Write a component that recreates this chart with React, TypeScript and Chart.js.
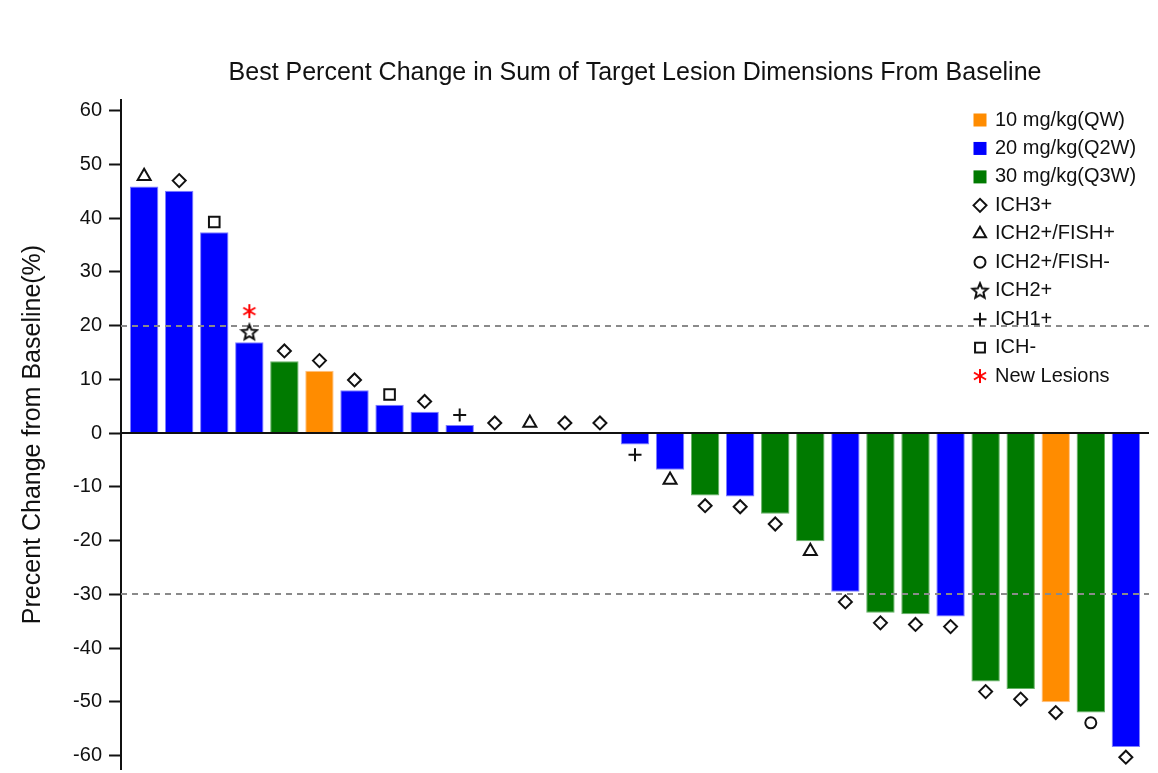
import React, { useEffect, useRef } from 'react';
import { Chart, registerables } from 'chart.js';
import { drawPoint } from 'chart.js/helpers';

Chart.register(...registerables);

// ---------------- data ----------------
const patientIds = [1, 2, 3, 4, 5, 6, 7, 8, 9, 10, 11, 12, 13, 14, 15, 16, 17, 18, 19, 20, 21, 22, 23, 24, 25, 26, 27, 28, 29];
const bestChange = [45.9, 45.1, 37.4, 16.9, 13.4, 11.6, 8.0, 5.3, 4.0, 1.5, 0, 0, 0, 0, -2.1, -6.8, -11.6, -11.8, -15.0, -20.1, -29.5, -33.4, -33.7, -34.1, -46.2, -47.6, -50.1, -52.0, -58.4];
const doseGroup = ['Q2W', 'Q2W', 'Q2W', 'Q2W', 'Q3W', 'QW', 'Q2W', 'Q2W', 'Q2W', 'Q2W', '', '', '', '', 'Q2W', 'Q2W', 'Q3W', 'Q2W', 'Q3W', 'Q3W', 'Q2W', 'Q3W', 'Q3W', 'Q2W', 'Q3W', 'Q3W', 'QW', 'Q3W', 'Q2W'];
const ihcStatus = ['ICH2+/FISH+', 'ICH3+', 'ICH-', 'ICH2+', 'ICH3+', 'ICH3+', 'ICH3+', 'ICH-', 'ICH3+', 'ICH1+', 'ICH3+', 'ICH2+/FISH+', 'ICH3+', 'ICH3+', 'ICH1+', 'ICH2+/FISH+', 'ICH3+', 'ICH3+', 'ICH3+', 'ICH2+/FISH+', 'ICH3+', 'ICH3+', 'ICH3+', 'ICH3+', 'ICH3+', 'ICH3+', 'ICH3+', 'ICH2+/FISH-', 'ICH3+'];
const newLesionPatients = [4];

const doseKeys = ['QW', 'Q2W', 'Q3W'];
const doseLabels = ['10 mg/kg(QW)', '20 mg/kg(Q2W)', '30 mg/kg(Q3W)'];
const ihcLabels = ['ICH3+', 'ICH2+/FISH+', 'ICH2+/FISH-', 'ICH2+', 'ICH1+', 'ICH-'];
const newLesionLabel = 'New Lesions';

const yTicks = [-60, -50, -40, -30, -20, -10, 0, 10, 20, 30, 40, 50, 60];
const thresholdLines = [20, -30];

const chartTitle = 'Best Percent Change in Sum of Target Lesion Dimensions From Baseline';
const yAxisTitle = 'Precent Change from Baseline(%)';

// ---------------- styles ----------------
const FONT = '"Liberation Sans", Arial, sans-serif';
const doseFill: Record<string, string> = { QW: '#FF8C00', Q2W: '#0000FF', Q3W: '#007A00' };
const doseEdge: Record<string, string> = { QW: '#FFC080', Q2W: '#7F7FFF', Q3W: '#66B266' };
const MARK_GAP = 1.9; // data units between bar end and marker
const LESION_GAP = 5.8;

function makeStar(): HTMLCanvasElement {
  const c = document.createElement('canvas');
  c.width = 20; c.height = 20;
  const g = c.getContext('2d')!;
  const cx = 10, cy = 10.5, ro = 8, ri = 3.6;
  g.beginPath();
  for (let k = 0; k < 10; k++) {
    const r = k % 2 === 0 ? ro : ri;
    const a = -Math.PI / 2 + (k * Math.PI) / 5;
    const px = cx + r * Math.cos(a), py = cy + r * Math.sin(a);
    if (k === 0) g.moveTo(px, py); else g.lineTo(px, py);
  }
  g.closePath();
  g.fillStyle = '#fff';
  g.fill();
  g.strokeStyle = '#111';
  g.lineWidth = 2;
  g.lineJoin = 'miter';
  g.stroke();
  return c;
}

function makeAsterisk(): HTMLCanvasElement {
  const c = document.createElement('canvas');
  c.width = 18; c.height = 18;
  const g = c.getContext('2d')!;
  g.strokeStyle = '#FF0000';
  g.lineWidth = 2;
  const r = 7;
  [90, 30, -30].forEach((deg) => {
    const a = (deg * Math.PI) / 180;
    g.beginPath();
    g.moveTo(9 - r * Math.cos(a), 9 - r * Math.sin(a));
    g.lineTo(9 + r * Math.cos(a), 9 + r * Math.sin(a));
    g.stroke();
  });
  return c;
}

export default function App() {
  const ref = useRef<HTMLCanvasElement | null>(null);

  useEffect(() => {
    document.body.style.margin = '0';
    const canvas = ref.current;
    if (!canvas) return;

    const star = makeStar();
    const asterisk = makeAsterisk();

    const markerStyle: Record<string, { pointStyle: any; radius: number }> = {
      'ICH3+': { pointStyle: 'rectRot', radius: 6.5 },
      'ICH2+/FISH+': { pointStyle: 'triangle', radius: 7.5 },
      'ICH2+/FISH-': { pointStyle: 'circle', radius: 5.5 },
      'ICH2+': { pointStyle: star, radius: 9 },
      'ICH1+': { pointStyle: 'cross', radius: 6.5 },
      'ICH-': { pointStyle: 'rect', radius: 7.5 },
    };

    const markerY = (v: number) => (v >= 0 ? v + MARK_GAP : v - MARK_GAP);

    const barDataset: any = {
      type: 'bar',
      label: 'Best change',
      order: 1,
      data: patientIds.map((_, i) => ({ x: i, y: bestChange[i] })),
      backgroundColor: doseGroup.map((d) => (d ? doseFill[d] : 'rgba(0,0,0,0)')),
      borderColor: doseGroup.map((d) => (d ? doseEdge[d] : 'rgba(0,0,0,0)')),
      borderWidth: 1,
      barPercentage: 0.81,
      categoryPercentage: 1,
    };

    const markerDatasets: any[] = ihcLabels.map((lab) => ({
      type: 'scatter',
      label: lab,
      order: 0,
      data: patientIds
        .map((_, i) => i)
        .filter((i) => ihcStatus[i] === lab)
        .map((i) => ({ x: i, y: markerY(bestChange[i]) })),
      pointStyle: markerStyle[lab].pointStyle,
      pointRadius: markerStyle[lab].radius,
      pointBorderColor: '#111',
      pointBackgroundColor: '#fff',
      pointBorderWidth: 2,
      showLine: false,
      clip: false,
    }));

    const lesionDataset: any = {
      type: 'scatter',
      label: newLesionLabel,
      order: 0,
      data: newLesionPatients.map((p) => {
        const i = patientIds.indexOf(p);
        return { x: i, y: bestChange[i] + LESION_GAP };
      }),
      pointStyle: asterisk,
      pointRadius: 9,
      showLine: false,
      clip: false,
    };

    const refLines = {
      id: 'refLines',
      afterDatasetDraw(chart: any, args: any) {
        if (args.index !== 0) return;
        const { ctx, chartArea } = chart;
        const y = chart.scales.y;
        ctx.save();
        ctx.lineWidth = 2;
        ctx.strokeStyle = '#8A8A8A';
        ctx.setLineDash([6, 5]);
        thresholdLines.forEach((t) => {
          const py = Math.round(y.getPixelForValue(t));
          ctx.beginPath();
          ctx.moveTo(chartArea.left, py);
          ctx.lineTo(chartArea.right, py);
          ctx.stroke();
        });
        ctx.setLineDash([]);
        ctx.strokeStyle = '#111';
        const p0 = Math.round(y.getPixelForValue(0));
        ctx.beginPath();
        ctx.moveTo(chartArea.left, p0);
        ctx.lineTo(chartArea.right, p0);
        ctx.stroke();
        ctx.restore();
      },
    };

    const legendPlugin = {
      id: 'customLegend',
      afterDraw(chart: any) {
        const { ctx } = chart;
        const x0 = 980, tx = 995, y0 = 120, step = 28.45;
        ctx.save();
        ctx.font = `20px ${FONT}`;
        ctx.textBaseline = 'middle';
        ctx.textAlign = 'left';
        let row = 0;
        doseKeys.forEach((k, j) => {
          const yy = y0 + row * step;
          ctx.fillStyle = doseFill[k];
          ctx.fillRect(x0 - 6.5, yy - 6.5, 13, 13);
          ctx.fillStyle = '#111';
          ctx.fillText(doseLabels[j], tx, yy);
          row++;
        });
        ihcLabels.forEach((lab) => {
          const yy = y0 + row * step;
          ctx.strokeStyle = '#111';
          ctx.fillStyle = '#fff';
          ctx.lineWidth = 2;
          const r = Math.min(markerStyle[lab].radius, 7);
          drawPoint(ctx, { pointStyle: markerStyle[lab].pointStyle, radius: r, rotation: 0, borderWidth: 2 } as any, x0, yy);
          ctx.fillStyle = '#111';
          ctx.fillText(lab, tx, yy);
          row++;
        });
        const yy = y0 + row * step;
        drawPoint(ctx, { pointStyle: asterisk, radius: 8, rotation: 0, borderWidth: 0 } as any, x0, yy);
        ctx.fillStyle = '#111';
        ctx.fillText(newLesionLabel, tx, yy);
        ctx.restore();
      },
    };

    const chart = new Chart(canvas, {
      type: 'bar',
      data: { datasets: [barDataset, ...markerDatasets, lesionDataset] },
      options: {
        animation: false,
        responsive: true,
        maintainAspectRatio: false,
        events: [],
        layout: { autoPadding: false, padding: { left: 0, right: 9, top: 0, bottom: 4 } },
        plugins: {
          legend: { display: false },
          tooltip: { enabled: false },
          title: {
            display: true,
            text: chartTitle,
            fullSize: false,
            color: '#111',
            font: { family: FONT, size: 25, weight: 'normal' },
            padding: { top: 58, bottom: 12 },
          },
        },
        scales: {
          x: { type: 'linear', min: -0.66, max: 28.66, offset: false, display: false },
          y: {
            type: 'linear',
            min: -62.5,
            max: 62,
            afterBuildTicks: (s: any) => {
              s.ticks = yTicks.map((v) => ({ value: v }));
            },
            afterFit: (s: any) => {
              s.width = 121;
              s.paddingTop = 0;
              s.paddingBottom = 0;
            },
            ticks: { color: '#111', padding: 7, autoSkip: false, font: { family: FONT, size: 20 } },
            grid: { drawOnChartArea: false, drawTicks: true, tickLength: 12, tickColor: '#111', tickWidth: 2 },
            border: { display: true, color: '#111', width: 2 },
            title: {
              display: true,
              text: yAxisTitle,
              color: '#111',
              font: { family: FONT, size: 25 },
              padding: { top: 18, bottom: 0 },
            },
          },
        },
      } as any,
      plugins: [refLines, legendPlugin],
    });

    return () => chart.destroy();
  }, []);

  return (
    <div style={{ width: 1158, height: 773, position: 'relative', background: '#fff' }}>
      <canvas ref={ref} />
    </div>
  );
}
